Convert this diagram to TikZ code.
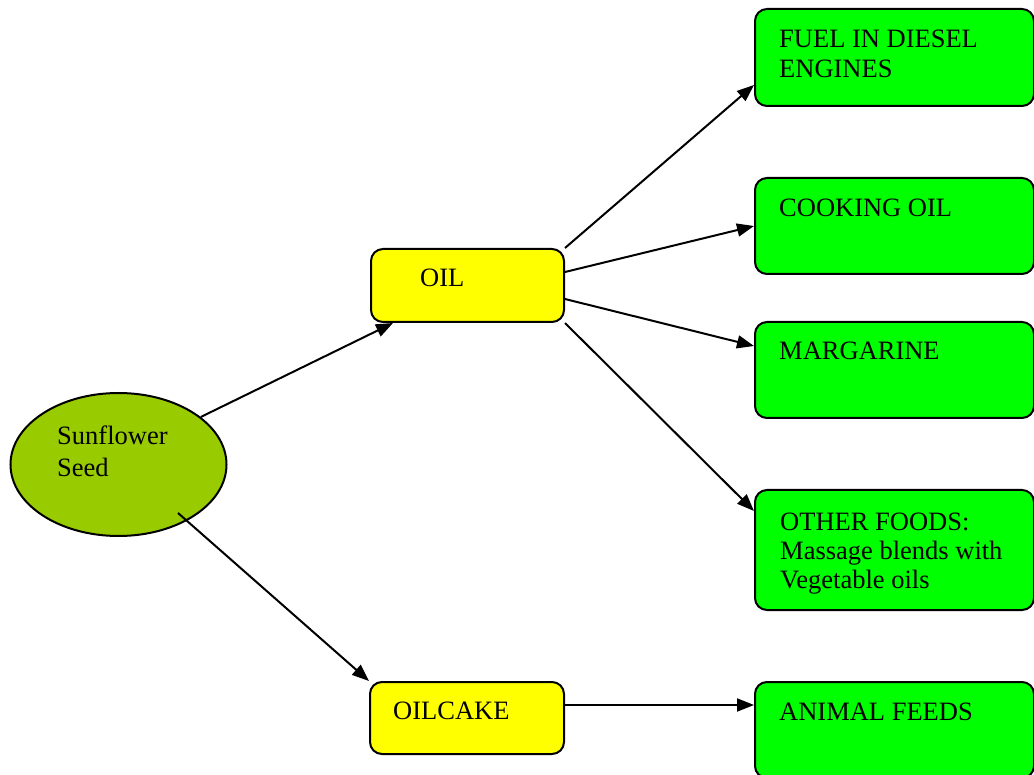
\documentclass[tikz,border=0pt]{standalone}
\usepackage{fontspec}
\setmainfont{Liberation Serif}
\usetikzlibrary{arrows.meta,shapes.geometric}
\definecolor{seedgreen}{HTML}{99CC00}
\definecolor{boxyellow}{HTML}{FFFF00}
\definecolor{boxgreen}{HTML}{00FF00}
\tikzset{
  box/.style={draw=black, line width=2pt, rounded corners=12pt, anchor=north west, inner sep=0pt},
  yellowbox/.style={box, fill=boxyellow},
  greenbox/.style={box, fill=boxgreen, minimum width=279pt},
  seedshape/.style={ellipse, draw=black, line width=2pt, fill=seedgreen, inner sep=0pt, minimum width=216pt, minimum height=143pt},
  lbl/.style={anchor=base west, inner sep=0pt, font=\fontsize{26.5}{30}\selectfont},
  conn/.style={line width=2pt, -{Triangle[length=17pt,width=13pt]}}
}
\begin{document}
\begin{tikzpicture}[x=1pt, y=-1pt]
\useasboundingbox (0,0) rectangle (1034,775);
\clip (0,0) rectangle (1034,775);
\fill[white] (0,0) rectangle (1034,775);

% shapes
\node[seedshape] (seed) at (118.5,464.5) {};
\node[yellowbox, minimum width=193pt, minimum height=73pt] (oil) at (370,248) {};
\node[yellowbox, minimum width=194pt, minimum height=72pt] (oilcake) at (369,681) {};
\node[greenbox, minimum height=97pt] (fuel) at (754,8) {};
\node[greenbox, minimum height=96pt] (cooking) at (754,177) {};
\node[greenbox, minimum height=96pt] (margarine) at (754,321) {};
\node[greenbox, minimum height=120pt] (other) at (754,489) {};
\node[greenbox, minimum height=96pt] (animal) at (754,681) {};

% texts
\node[lbl] (t1) at (57,445) {Sunflower};
\node[lbl] (t2) at (57,477) {Seed};
\node[lbl] (t3) at (420,287) {OIL};
\node[lbl] (t4) at (393,719) {OILCAKE};
\node[lbl] (t5) at (779,48) {FUEL IN DIESEL};
\node[lbl] (t6) at (779,78) {ENGINES};
\node[lbl] (t7) at (779,217) {COOKING OIL};
\node[lbl] (t8) at (779,360) {MARGARINE};
\node[lbl] (t9) at (780,530) {OTHER FOODS:};
\node[lbl] (t10) at (780,559) {Massage blends with};
\node[lbl] (t11) at (780,588) {Vegetable oils};
\node[lbl] (t12) at (779,720) {ANIMAL FEEDS};

% connectors
\draw[conn] (seed.30) -- ([xshift=23pt]oil.south west);
\draw[conn] ([xshift=59.5pt,yshift=-48.5pt]seed.center) -- (oilcake.north west);
\draw[conn] (oil.north east) -- ([yshift=22pt]fuel.south west);
\draw[conn] ([yshift=-24pt]oil.north east) -- (cooking.west);
\draw[conn] ([yshift=24pt]oil.south east) -- ([yshift=-25pt]margarine.north west);
\draw[conn] (oil.south east) -- ([yshift=-22pt]other.north west);
\draw[conn] ([yshift=-24pt]oilcake.north east) -- ([yshift=-24pt]animal.north west);
\end{tikzpicture}
\end{document}
